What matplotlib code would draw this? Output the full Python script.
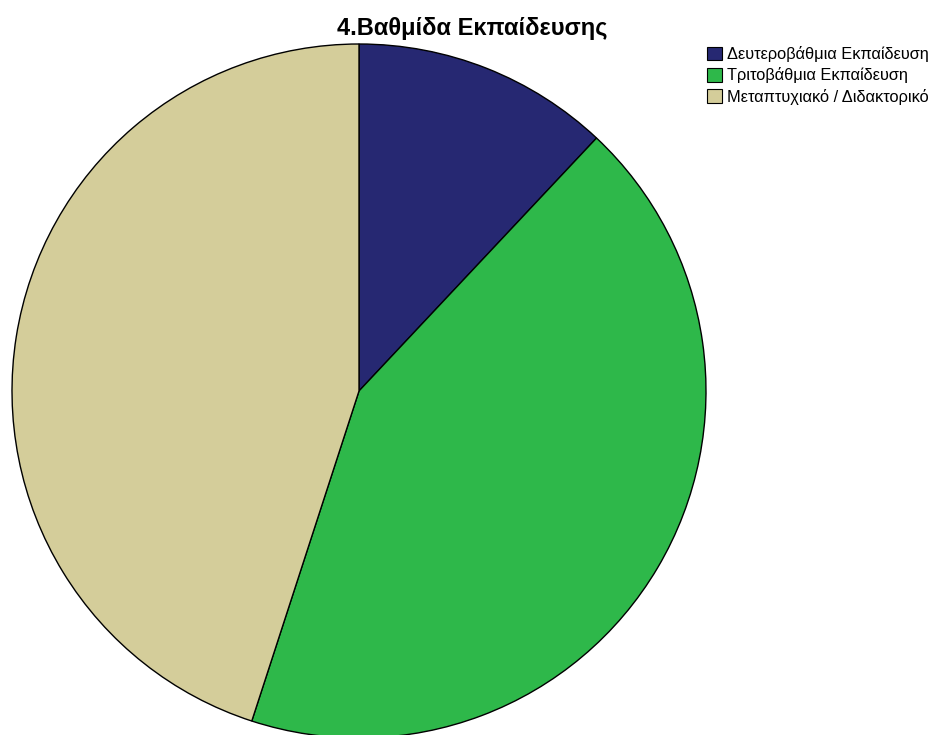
import matplotlib.pyplot as plt
from matplotlib.patches import Patch

plt.rcParams['font.family'] = ['Liberation Sans', 'DejaVu Sans']

title = '4.Βαθμίδα Εκπαίδευσης'
labels = ['Δευτεροβάθμια Εκπαίδευση', 'Τριτοβάθμια Εκπαίδευση', 'Μεταπτυχιακό / Διδακτορικό']
counts = [12, 43, 45]
colors = ['#262872', '#2eb84a', '#d4cd9a']

W, H = 934, 735
fig = plt.figure(figsize=(W / 100, H / 100), dpi=100)

# pie centre (359, 391) px from top-left, radius 347 px
cx, cy, r = 359, 391, 347
ax = fig.add_axes([(cx - r) / W, (H - cy - r) / H, 2 * r / W, 2 * r / H])
ax.pie(counts, colors=colors, startangle=90, counterclock=False,
       wedgeprops=dict(edgecolor='black', linewidth=1.0))
ax.set_xlim(-1, 1)
ax.set_ylim(-1, 1)
ax.set_aspect('equal')
ax.axis('off')

fig.text(472 / W, 1 - 28 / H, title, ha='center', va='center',
         fontsize=17, fontweight='bold')

handles = [Patch(facecolor=c, edgecolor='black', linewidth=0.8) for c in colors]
fig.legend(handles, labels, loc='upper left', bbox_to_anchor=(707 / W, 1 - 46 / H),
           frameon=False, fontsize=11.8, handlelength=0.9, handleheight=0.9,
           handletextpad=0.35, labelspacing=0.33, borderaxespad=0, borderpad=0)

fig.savefig('out.png', dpi=100)
